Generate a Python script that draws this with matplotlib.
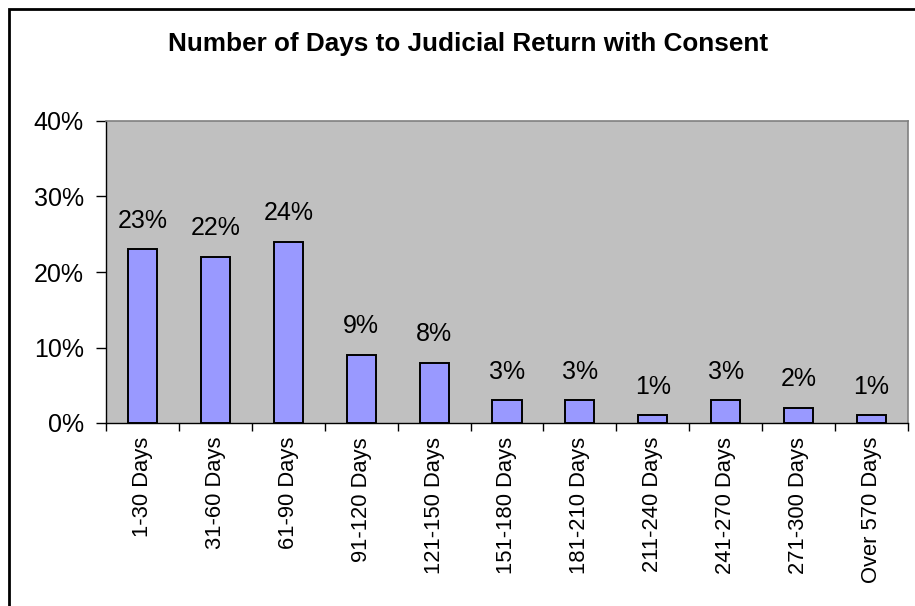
import matplotlib
matplotlib.use("Agg")
import matplotlib.pyplot as plt
from matplotlib.patches import Rectangle
from matplotlib.ticker import FixedLocator
import numpy as np

plt.rcParams['font.family'] = ['Liberation Sans', 'DejaVu Sans']

categories = ["1-30 Days", "31-60 Days", "61-90 Days", "91-120 Days", "121-150 Days",
              "151-180 Days", "181-210 Days", "211-240 Days", "241-270 Days",
              "271-300 Days", "Over 570 Days"]
values = [23, 22, 24, 9, 8, 3, 3, 1, 3, 2, 1]
yticks = [0, 10, 20, 30, 40]
title = "Number of Days to Judicial Return with Consent"

W, H = 915, 606
fig = plt.figure(figsize=(W/100, H/100), dpi=100)
fig.patch.set_facecolor('white')

# outer border (chart area frame)
fig.add_artist(Rectangle((9/W, -0.05), 1.2, 1 - 9/H + 0.05, transform=fig.transFigure,
                         fill=False, edgecolor='black', linewidth=2))

ax = fig.add_axes([106/W, (H-423)/H, (908-106)/W, (423-121)/H])
ax.set_facecolor('#C0C0C0')
x = np.arange(len(categories))
ax.bar(x, values, width=0.4, color='#9999FF', edgecolor='black', linewidth=1.4, zorder=3)
for xi, v in zip(x, values):
    ax.annotate(f"{v}%", (xi, v), xytext=(0, 12), textcoords='offset points',
                ha='center', va='bottom', fontsize=18)

ax.set_xlim(-0.5, len(categories) - 0.5)
ax.set_ylim(0, 40)
ax.set_yticks(yticks)
ax.set_yticklabels([f"{t}%" for t in yticks], fontsize=18)
ax.set_xticks(x)
ax.set_xticklabels(categories, rotation=90, fontsize=15.8)
ax.xaxis.set_minor_locator(FixedLocator(np.arange(-0.5, len(categories), 1)))
ax.tick_params(axis='x', which='major', length=0, pad=10)
ax.tick_params(axis='x', which='minor', length=6, width=1, color='black', direction='out')
ax.tick_params(axis='y', length=7, width=1, direction='out', pad=9)

for s in ['top', 'right']:
    ax.spines[s].set_color('#808080')
    ax.spines[s].set_linewidth(1.2)
for s in ['left', 'bottom']:
    ax.spines[s].set_color('black')
    ax.spines[s].set_linewidth(1)

fig.text(468/W, 1 - 44/H, title, ha='center', va='center', fontsize=18.8, fontweight='bold')

fig.savefig("out.png", dpi=100)
